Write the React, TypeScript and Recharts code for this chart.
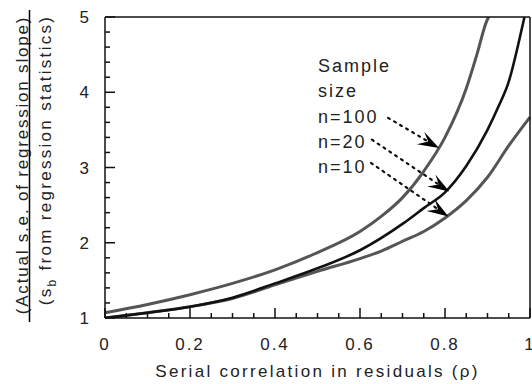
import { LineChart, Line, XAxis, YAxis, ReferenceLine } from 'recharts';

// curve readings, rho vs. ratio of standard errors
const rhoN100 = [0, 0.1, 0.2, 0.3, 0.4, 0.5, 0.6, 0.65, 0.7, 0.75, 0.8, 0.85, 0.875, 0.9, 0.903];
const valN100 = [1.07, 1.18, 1.31, 1.46, 1.64, 1.87, 2.15, 2.35, 2.6, 2.95, 3.4, 4.05, 4.5, 4.97, 5.0];

const rhoN20 = [0, 0.1, 0.2, 0.3, 0.4, 0.5, 0.6, 0.7, 0.75, 0.8, 0.85, 0.9, 0.925, 0.95, 0.975, 0.987];
const valN20 = [1.0, 1.07, 1.15, 1.27, 1.46, 1.66, 1.9, 2.25, 2.46, 2.67, 3.02, 3.5, 3.8, 4.14, 4.7, 5.0];

const rhoN10 = [0, 0.1, 0.2, 0.3, 0.4, 0.5, 0.6, 0.65, 0.7, 0.75, 0.8, 0.85, 0.9, 0.95, 1.0];
const valN10 = [1.0, 1.07, 1.15, 1.26, 1.44, 1.62, 1.79, 1.89, 2.02, 2.15, 2.33, 2.56, 2.87, 3.29, 3.67];

// ticks
const xTicks = [0, 0.05, 0.1, 0.15, 0.2, 0.25, 0.3, 0.35, 0.4, 0.45, 0.5, 0.55, 0.6, 0.65, 0.7, 0.75, 0.8, 0.85, 0.9, 0.95, 1];
const xMajor = [0, 0.2, 0.4, 0.6, 0.8, 1];
const yTicks = [1, 1.2, 1.4, 1.6, 1.8, 2, 2.2, 2.4, 2.6, 2.8, 3, 3.2, 3.4, 3.6, 3.8, 4, 4.2, 4.4, 4.6, 4.8, 5];
const yMajor = [1, 2, 3, 4, 5];

// annotation arrows (start -> tip), data coordinates
const arrowN100 = [{ x: 0.666, y: 3.66 }, { x: 0.786, y: 3.26 }];
const arrowN20 = [{ x: 0.628, y: 3.37 }, { x: 0.81, y: 2.68 }];
const arrowN10 = [{ x: 0.626, y: 3.06 }, { x: 0.808, y: 2.35 }];

const legendLines = ['Sample', 'size', 'n=100', 'n=20', 'n=10'];

const toData = (xs: number[], ys: number[]) => xs.map((x, i) => ({ rho: x, v: ys[i] }));

const FONT = '"Liberation Sans", Arial, sans-serif';
const INK = '#222';
const TICK = '#111';
// recharts places the tick anchor tickSize + tickMargin away from the axis line
const T_SIZE = 6;
const T_MARGIN = 2;
const OFF = T_SIZE + T_MARGIN;

const isMajor = (list: number[], v: number) => list.some((m) => Math.abs(m - v) < 1e-6);

// inward ticks: majors long, minors short
const renderBottomTick = (props: any) => {
  const x = Number(props.x);
  const y = Number(props.y) - OFF;
  const major = isMajor(xMajor, props.payload.value);
  return (
    <g key={`b-${props.index}`}>
      <path d={`M${x},${y}V${y - (major ? 10 : 5)}`} stroke={TICK} strokeWidth={1.5} fill="none" />
      {major && (
        <text x={x} y={y + 32} textAnchor="middle" fontFamily={FONT} fontSize={17} fill={INK} style={{ letterSpacing: '2px' }}>
          {String(props.payload.value)}
        </text>
      )}
    </g>
  );
};

const renderTopTick = (props: any) => {
  const x = Number(props.x);
  const y = Number(props.y) + OFF;
  const major = isMajor(xMajor, props.payload.value);
  return <path key={`t-${props.index}`} d={`M${x},${y}V${y + (major ? 10 : 5)}`} stroke={TICK} strokeWidth={1.5} fill="none" />;
};

const renderLeftTick = (props: any) => {
  const x = Number(props.x) + OFF;
  const y = Number(props.y);
  const major = isMajor(yMajor, props.payload.value);
  return (
    <g key={`l-${props.index}`}>
      <path d={`M${x},${y}H${x + (major ? 10 : 5)}`} stroke={TICK} strokeWidth={1.5} fill="none" />
      {major && (
        <text x={x - 16} y={y + 6} textAnchor="end" fontFamily={FONT} fontSize={17} fill={INK}>
          {String(props.payload.value)}
        </text>
      )}
    </g>
  );
};

const renderRightTick = (props: any) => {
  const x = Number(props.x) - OFF;
  const y = Number(props.y);
  const major = isMajor(yMajor, props.payload.value);
  return <path key={`r-${props.index}`} d={`M${x},${y}H${x - (major ? 10 : 5)}`} stroke={TICK} strokeWidth={1.5} fill="none" />;
};

const DottedArrow = (props: any) => {
  const { x1, y1, x2, y2 } = props;
  const ang = Math.atan2(y2 - y1, x2 - x1);
  const ux = Math.cos(ang);
  const uy = Math.sin(ang);
  const px = -uy;
  const py = ux;
  const L = 21;
  const W = 8;
  const bx = x2 - ux * L;
  const by = y2 - uy * L;
  const nx = x2 - ux * L * 0.6;
  const ny = y2 - uy * L * 0.6;
  const pts = [
    [x2, y2],
    [bx + px * W, by + py * W],
    [nx, ny],
    [bx - px * W * 0.8, by - py * W * 0.8],
  ]
    .map((p) => p.join(','))
    .join(' ');
  return (
    <g>
      <line x1={x1} y1={y1} x2={nx} y2={ny} stroke="#111" strokeWidth={2.2} strokeDasharray="2 5" strokeLinecap="round" />
      <polygon points={pts} fill="#000" />
    </g>
  );
};

const XTitle = () => (
  <text x={317.5} y={377} textAnchor="middle" fontFamily={FONT} fontSize={17} fill={INK} style={{ letterSpacing: '2.3px' }}>
    Serial correlation in residuals (ρ)
  </text>
);

const frame = { stroke: TICK, strokeWidth: 1.5 };

export default function App() {
  return (
    <div style={{ position: 'absolute', left: 0, top: 0, width: 532, height: 384, background: '#fff' }}>
      <LineChart width={532} height={384} margin={{ top: 16, right: 1, bottom: 6, left: 45 }}>
        <XAxis
          dataKey="rho"
          type="number"
          domain={[0, 1]}
          ticks={xTicks}
          interval={0}
          tickSize={T_SIZE}
          tickMargin={T_MARGIN}
          tickLine={false}
          tick={renderBottomTick}
          axisLine={frame}
          height={60}
          label={{ content: () => <XTitle /> }}
        />
        <XAxis
          xAxisId="top"
          orientation="top"
          dataKey="rho"
          type="number"
          domain={[0, 1]}
          ticks={xTicks}
          interval={0}
          tickSize={T_SIZE}
          tickMargin={T_MARGIN}
          tickLine={false}
          tick={renderTopTick}
          axisLine={frame}
          height={1}
        />
        <YAxis
          type="number"
          domain={[1, 5]}
          ticks={yTicks}
          interval={0}
          tickSize={T_SIZE}
          tickMargin={T_MARGIN}
          tickLine={false}
          tick={renderLeftTick}
          axisLine={frame}
          width={60}
          allowDataOverflow
        />
        <YAxis
          yAxisId="right"
          orientation="right"
          type="number"
          domain={[1, 5]}
          ticks={yTicks}
          interval={0}
          tickSize={T_SIZE}
          tickMargin={T_MARGIN}
          tickLine={false}
          tick={renderRightTick}
          axisLine={frame}
          width={1}
        />
        <Line data={toData(rhoN10, valN10)} dataKey="v" type="monotone" stroke="#555" strokeWidth={3} dot={false} isAnimationActive={false} />
        <Line data={toData(rhoN100, valN100)} dataKey="v" type="monotone" stroke="#555" strokeWidth={3} dot={false} isAnimationActive={false} />
        <Line data={toData(rhoN20, valN20)} dataKey="v" type="monotone" stroke="#111" strokeWidth={2.6} dot={false} isAnimationActive={false} />
        <ReferenceLine segment={arrowN100} shape={(p: any) => <DottedArrow {...p} />} />
        <ReferenceLine segment={arrowN20} shape={(p: any) => <DottedArrow {...p} />} />
        <ReferenceLine segment={arrowN10} shape={(p: any) => <DottedArrow {...p} />} />
      </LineChart>
      <svg width={532} height={384} style={{ position: 'absolute', left: 0, top: 0, pointerEvents: 'none' }}>
        <text transform="translate(28,165) rotate(-90)" textAnchor="middle" fontFamily={FONT} fontSize={17} fill={INK} style={{ letterSpacing: '1.8px' }}>
          (Actual s.e. of regression slope)
        </text>
        <line x1={29.5} x2={29.5} y1={10} y2={322} stroke="#000" strokeWidth={1.5} />
        <text transform="translate(51,160) rotate(-90)" textAnchor="middle" fontFamily={FONT} fontSize={17} fill={INK} style={{ letterSpacing: '2.3px' }}>
          (s
          <tspan fontSize={12} dy={5}>b</tspan>
          <tspan dy={-5}> from regression statistics)</tspan>
        </text>
        {legendLines.map((t, i) => (
          <text key={t} x={318} y={72 + i * 25.3} fontFamily={FONT} fontSize={18} fill={INK} style={{ letterSpacing: '2px' }}>
            {t}
          </text>
        ))}
      </svg>
    </div>
  );
}
